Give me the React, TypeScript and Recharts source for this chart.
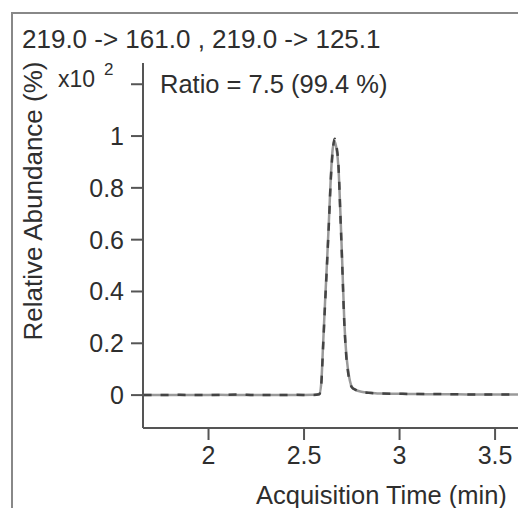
import { LineChart, Line, XAxis, YAxis } from "recharts";

// retention time (min)
const times = [
  1.66, 1.75, 1.85, 1.95, 2.05, 2.15, 2.25, 2.35, 2.45, 2.55, 2.58, 2.59, 2.6,
  2.61, 2.62, 2.63, 2.64, 2.65, 2.66, 2.67, 2.68, 2.69, 2.7, 2.71, 2.72, 2.73,
  2.74, 2.75, 2.77, 2.8, 2.85, 2.9, 3.0, 3.1, 3.2, 3.3, 3.4, 3.5, 3.62,
];
// 219.0 -> 161.0 (quantifier, dashed)
const quant = [
  0.0, 0.0, 0.001, 0.0, 0.0, 0.002, 0.0, 0.0, 0.001, 0.0, 0.003, 0.04, 0.19,
  0.35, 0.5, 0.66, 0.83, 0.94, 0.99, 0.96, 0.89, 0.7, 0.5, 0.29, 0.16, 0.09,
  0.05, 0.03, 0.02, 0.012, 0.008, 0.006, 0.005, 0.004, 0.004, 0.003, 0.002,
  0.002, 0.002,
];
// 219.0 -> 125.1 (qualifier, solid)
const qual = [
  0.0, 0.0, 0.0, 0.0, 0.001, 0.0, 0.0, 0.0, 0.0, 0.001, 0.004, 0.045, 0.2,
  0.36, 0.51, 0.67, 0.84, 0.95, 0.98, 0.95, 0.88, 0.71, 0.51, 0.3, 0.17, 0.1,
  0.055, 0.032, 0.02, 0.013, 0.009, 0.006, 0.005, 0.004, 0.003, 0.003, 0.002,
  0.002, 0.002,
];
const xTicks = [2, 2.5, 3, 3.5];
const yTicks = [0, 0.2, 0.4, 0.6, 0.8, 1, 1.2];

const title = "219.0 -> 161.0 , 219.0 -> 125.1";
const ratioText = "Ratio = 7.5 (99.4 %)";

const data = times.map((t, i) => ({ t, quant: quant[i], qual: qual[i] }));

const font = "'Liberation Sans', Arial, sans-serif";
const textColor = "#2e2e2e";
const axisColor = "#555";

export default function App() {
  return (
    <div
      style={{
        position: "absolute",
        left: 0,
        top: 0,
        width: 518,
        height: 508,
        background: "#fff",
        fontFamily: font,
      }}
    >
      <LineChart
        data={data}
        width={518}
        height={508}
        margin={{ top: 63, right: 0, left: 83, bottom: 50 }}
      >
        <XAxis
          dataKey="t"
          type="number"
          domain={[1.657, 3.62]}
          ticks={xTicks}
          allowDataOverflow
          height={30}
          stroke={axisColor}
          strokeWidth={2}
          tickSize={12}
          tickMargin={6}
          tick={{ fontSize: 25, fill: textColor, fontFamily: font }}
        />
        <YAxis
          type="number"
          domain={[-0.127, 1.282]}
          ticks={yTicks}
          allowDataOverflow
          width={60}
          stroke={axisColor}
          strokeWidth={2}
          tickSize={12}
          tickMargin={7}
          tick={{ fontSize: 25, fill: textColor, fontFamily: font }}
          tickFormatter={(v: number) => (v > 1.1 ? "" : String(v))}
        />
        <Line
          type="monotone"
          dataKey="qual"
          stroke="#9a9a9a"
          strokeWidth={2.5}
          dot={false}
          isAnimationActive={false}
        />
        <Line
          type="monotone"
          dataKey="quant"
          stroke="#444"
          strokeWidth={2.5}
          strokeDasharray="8 9"
          dot={false}
          isAnimationActive={false}
        />
      </LineChart>
      <svg
        width={518}
        height={508}
        style={{ position: "absolute", left: 0, top: 0, pointerEvents: "none" }}
      >
        <line x1={11} y1={13} x2={518} y2={13} stroke="#888" strokeWidth={2} />
        <line x1={12} y1={13} x2={12} y2={508} stroke="#888" strokeWidth={2} />
        <text x={22} y={48} fontSize={26} fill={textColor} fontFamily={font}>
          {title}
        </text>
        <text x={160} y={93} fontSize={25.5} fill={textColor} fontFamily={font}>
          {ratioText}
        </text>
        <text x={58} y={87} fontSize={23} fill={textColor} fontFamily={font}>
          x10
        </text>
        <text x={104} y={75} fontSize={17} fill={textColor} fontFamily={font}>
          2
        </text>
        <text
          x={0}
          y={0}
          transform="translate(42, 201) rotate(-90)"
          textAnchor="middle"
          fontSize={26}
          fill={textColor}
          fontFamily={font}
        >
          Relative Abundance (%)
        </text>
        <text x={256} y={504} fontSize={25.5} fill={textColor} fontFamily={font}>
          Acquisition Time (min)
        </text>
      </svg>
    </div>
  );
}
